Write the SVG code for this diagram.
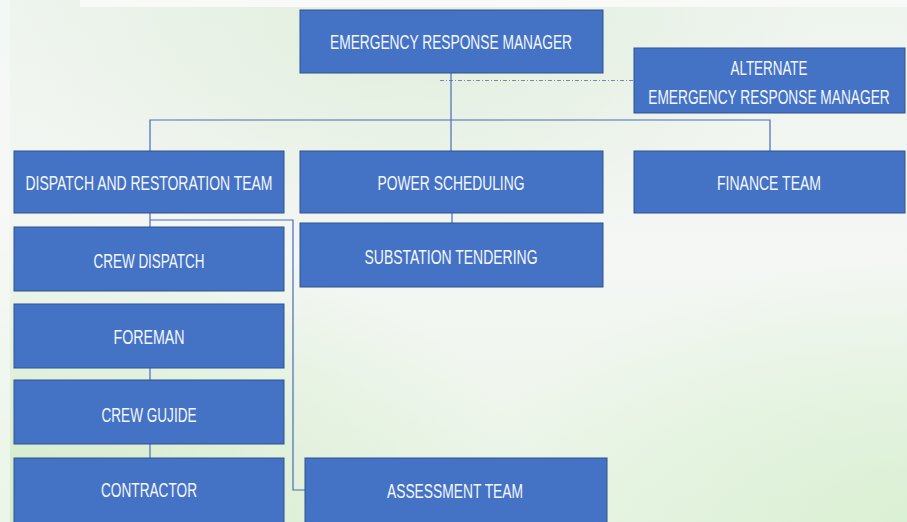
<svg xmlns="http://www.w3.org/2000/svg" width="907" height="522" viewBox="0 0 907 522">
  <defs>
    <linearGradient id="bgBase" x1="0" y1="0" x2="0" y2="1">
      <stop offset="0" stop-color="#eef4ee"/>
      <stop offset="0.5" stop-color="#f4f7f4"/>
      <stop offset="1" stop-color="#eaf4e6"/>
    </linearGradient>
    <radialGradient id="greenBL" cx="0" cy="1" r="0.6">
      <stop offset="0" stop-color="#cfeac6" stop-opacity="0.9"/>
      <stop offset="1" stop-color="#cfeac6" stop-opacity="0"/>
    </radialGradient>
    <radialGradient id="greenBR" cx="1" cy="1" r="0.5">
      <stop offset="0" stop-color="#d6efcf" stop-opacity="0.8"/>
      <stop offset="1" stop-color="#d6efcf" stop-opacity="0"/>
    </radialGradient>
    <radialGradient id="greenTop" cx="0.45" cy="0.05" r="0.45">
      <stop offset="0" stop-color="#dcecd6" stop-opacity="0.7"/>
      <stop offset="1" stop-color="#dcecd6" stop-opacity="0"/>
    </radialGradient>
    <style>
      .box { fill: #4472c4; stroke: #2f528f; stroke-width: 1; }
      .lbl { font-family: "Liberation Sans", Arial, sans-serif; font-size: 20px; fill: #f4f7ff; text-anchor: middle; }
      .link { fill: none; stroke: #4a6cb5; stroke-width: 1.2; }
      .alt { fill: none; stroke: #7b88a8; stroke-width: 1.2; stroke-dasharray: 4 2 1 2; }
    </style>
  </defs>

  <!-- backdrop -->
  <rect x="0" y="0" width="907" height="522" fill="url(#bgBase)"/>
  <rect x="0" y="0" width="907" height="522" fill="url(#greenTop)"/>
  <rect x="0" y="0" width="907" height="522" fill="url(#greenBL)"/>
  <rect x="0" y="0" width="907" height="522" fill="url(#greenBR)"/>
  <rect x="80" y="0" width="827" height="7" fill="#f9faf8"/>
  <rect x="0" y="0" width="10" height="522" fill="#f7f9f6" opacity="0.7"/>

  <!-- connectors -->
  <g id="connectors">
    <path class="alt" d="M440 80.5 H635"/>
    <path class="link" d="M451 73 V151"/>
    <path class="link" d="M150 151 V120 H770 V151"/>
    <path class="link" d="M452 213 V223"/>
    <path class="link" d="M150 213 V291"/>
    <path class="link" d="M150 368 V380"/>
    <path class="link" d="M150 444 V458"/>
    <path class="link" d="M150 220 H293 V490 H305"/>
  </g>

  <g id="erm">
    <rect class="box" x="300" y="10" width="303" height="63"/>
    <text class="lbl" x="451" y="49" textLength="242" lengthAdjust="spacingAndGlyphs">EMERGENCY RESPONSE MANAGER</text>
  </g>
  <g id="alternate-erm">
    <rect class="box" x="634" y="48" width="271" height="65"/>
    <text class="lbl" x="769" y="75" textLength="77" lengthAdjust="spacingAndGlyphs">ALTERNATE</text>
    <text class="lbl" transform="translate(769 104) scale(0.69 1)" x="0" y="0" textLength="350" lengthAdjust="spacingAndGlyphs">EMERGENCY RESPONSE MANAGER</text>
  </g>
  <g id="dispatch-restoration">
    <rect class="box" x="14" y="151" width="270" height="62"/>
    <text class="lbl" x="149" y="190" textLength="247" lengthAdjust="spacingAndGlyphs">DISPATCH AND RESTORATION TEAM</text>
  </g>
  <g id="power-scheduling">
    <rect class="box" x="300" y="151" width="303" height="62"/>
    <text class="lbl" x="451" y="190" textLength="147" lengthAdjust="spacingAndGlyphs">POWER SCHEDULING</text>
  </g>
  <g id="finance">
    <rect class="box" x="634" y="151" width="271" height="62"/>
    <text class="lbl" x="769" y="190" textLength="104" lengthAdjust="spacingAndGlyphs">FINANCE TEAM</text>
  </g>
  <g id="crew-dispatch">
    <rect class="box" x="14" y="227" width="270" height="64"/>
    <text class="lbl" x="149" y="268" textLength="111" lengthAdjust="spacingAndGlyphs">CREW DISPATCH</text>
  </g>
  <g id="substation-tendering">
    <rect class="box" x="300" y="223" width="303" height="64"/>
    <text class="lbl" x="451" y="264" textLength="173" lengthAdjust="spacingAndGlyphs">SUBSTATION TENDERING</text>
  </g>
  <g id="foreman">
    <rect class="box" x="14" y="304" width="270" height="64"/>
    <text class="lbl" x="149" y="344" textLength="71" lengthAdjust="spacingAndGlyphs">FOREMAN</text>
  </g>
  <g id="crew-guide">
    <rect class="box" x="14" y="380" width="270" height="64"/>
    <text class="lbl" x="149" y="422" textLength="95" lengthAdjust="spacingAndGlyphs">CREW GUJIDE</text>
  </g>
  <g id="contractor">
    <rect class="box" x="14" y="458" width="270" height="66"/>
    <text class="lbl" x="149" y="497" textLength="96" lengthAdjust="spacingAndGlyphs">CONTRACTOR</text>
  </g>
  <g id="assessment">
    <rect class="box" x="305" y="458" width="302" height="66"/>
    <text class="lbl" x="455" y="498" textLength="136" lengthAdjust="spacingAndGlyphs">ASSESSMENT TEAM</text>
  </g>
</svg>
